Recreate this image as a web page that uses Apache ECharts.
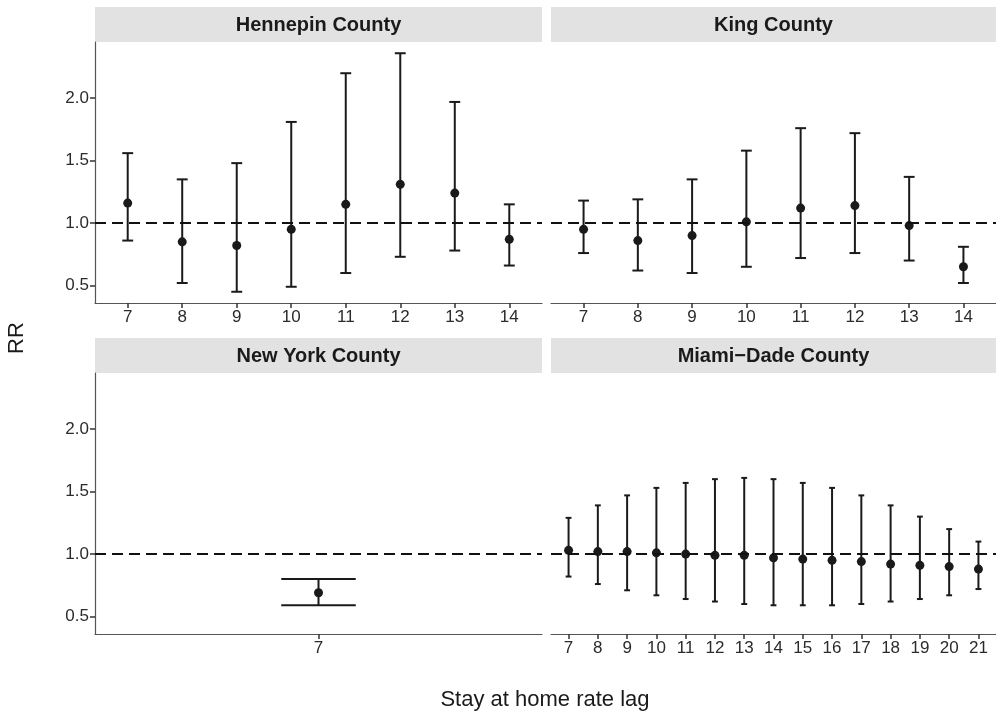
<!DOCTYPE html>
<html>
<head>
<meta charset="utf-8">
<script src="https://cdn.jsdelivr.net/npm/echarts@6/dist/echarts.min.js"></script>
<style>
  html, body { margin: 0; padding: 0; background: #fff; }
  #chart { width: 996px; height: 714px; }
</style>
</head>
<body>
<div id="chart"></div>
<script>
// values: relative risk with 95% CI by lag
var hennepinLag = [7, 8, 9, 10, 11, 12, 13, 14];
var hennepinRR = [1.16, 0.85, 0.82, 0.95, 1.15, 1.31, 1.24, 0.87];
var hennepinLower = [0.86, 0.52, 0.45, 0.49, 0.60, 0.73, 0.78, 0.66];
var hennepinUpper = [1.56, 1.35, 1.48, 1.81, 2.20, 2.36, 1.97, 1.15];

var kingLag = [7, 8, 9, 10, 11, 12, 13, 14];
var kingRR = [0.95, 0.86, 0.90, 1.01, 1.12, 1.14, 0.98, 0.65];
var kingLower = [0.76, 0.62, 0.60, 0.65, 0.72, 0.76, 0.70, 0.52];
var kingUpper = [1.18, 1.19, 1.35, 1.58, 1.76, 1.72, 1.37, 0.81];

var newYorkLag = [7];
var newYorkRR = [0.69];
var newYorkLower = [0.59];
var newYorkUpper = [0.80];

var miamiLag = [7, 8, 9, 10, 11, 12, 13, 14, 15, 16, 17, 18, 19, 20, 21];
var miamiRR = [1.03, 1.02, 1.02, 1.01, 1.00, 0.99, 0.99, 0.97, 0.96, 0.95, 0.94, 0.92, 0.91, 0.90, 0.88];
var miamiLower = [0.82, 0.76, 0.71, 0.67, 0.64, 0.62, 0.60, 0.59, 0.59, 0.59, 0.60, 0.62, 0.64, 0.67, 0.72];
var miamiUpper = [1.29, 1.39, 1.47, 1.53, 1.57, 1.60, 1.61, 1.60, 1.57, 1.53, 1.47, 1.39, 1.30, 1.20, 1.10];

var countyNames = ['Hennepin County', 'King County', 'New York County', 'Miami\u2212Dade County'];
var yTicks = [0.5, 1.0, 1.5, 2.0];
var refLine = 1;

var panels = [
    {name: countyNames[0], lag: hennepinLag, rr: hennepinRR, lo: hennepinLower, hi: hennepinUpper},
    {name: countyNames[1], lag: kingLag, rr: kingRR, lo: kingLower, hi: kingUpper},
    {name: countyNames[2], lag: newYorkLag, rr: newYorkRR, lo: newYorkLower, hi: newYorkUpper},
    {name: countyNames[3], lag: miamiLag, rr: miamiRR, lo: miamiLower, hi: miamiUpper}
];

var font = 'Liberation Sans, Arial, Helvetica, sans-serif';
var ink = '#1a1a1a';
var axisGrey = '#555';

var myChart = echarts.init(document.getElementById('chart'));

var boxes = [
    {left: 95, top: 42, width: 447, height: 261},
    {left: 551, top: 42, width: 445, height: 261},
    {left: 95, top: 373, width: 447, height: 261},
    {left: 551, top: 373, width: 445, height: 261}
];

function renderErrorBar(params, api) {
    var x = api.value(0);
    var lo = api.value(1);
    var hi = api.value(2);
    var pLo = api.coord([x, lo]);
    var pHi = api.coord([x, hi]);
    var xl = api.coord([x - 0.1, hi])[0];
    var xr = api.coord([x + 0.1, hi])[0];
    var style = {stroke: ink, lineWidth: 2};
    return {
        type: 'group',
        children: [
            {type: 'line', shape: {x1: pLo[0], y1: pLo[1], x2: pHi[0], y2: pHi[1]}, style: style},
            {type: 'line', shape: {x1: xl, y1: pHi[1], x2: xr, y2: pHi[1]}, style: style},
            {type: 'line', shape: {x1: xl, y1: pLo[1], x2: xr, y2: pLo[1]}, style: style}
        ]
    };
}

var grid = [], xAxis = [], yAxis = [], series = [], graphic = [];

panels.forEach(function (p, i) {
    var b = boxes[i];
    grid.push({left: b.left, top: b.top, width: b.width, height: b.height});

    var lagMin = p.lag[0], lagMax = p.lag[p.lag.length - 1];
    xAxis.push({
        type: 'value',
        gridIndex: i,
        min: lagMin - 0.6,
        max: lagMax + 0.6,
        splitLine: {show: false},
        axisLine: {show: true, onZero: false, lineStyle: {color: axisGrey, width: 1.2}},
        axisTick: {show: true, inside: false, length: 5, customValues: p.lag, lineStyle: {color: '#333', width: 1.5}},
        axisLabel: {
            show: true, customValues: p.lag, margin: 6,
            color: '#2b2b2b', fontSize: 17, fontFamily: font
        }
    });

    var left = (i % 2 === 0);
    yAxis.push({
        type: 'value',
        gridIndex: i,
        min: 0.36,
        max: 2.45,
        splitLine: {show: false},
        axisLine: {show: left, lineStyle: {color: axisGrey, width: 1.2}},
        axisTick: {show: left, inside: false, length: 5, customValues: yTicks, lineStyle: {color: '#333', width: 1.5}},
        axisLabel: {
            show: left, customValues: yTicks, margin: 6,
            color: '#2b2b2b', fontSize: 17, fontFamily: font,
            formatter: function (v) { return v.toFixed(1); }
        }
    });

    var barData = p.lag.map(function (l, k) { return [l, p.lo[k], p.hi[k]]; });
    var ptData = p.lag.map(function (l, k) { return [l, p.rr[k]]; });

    series.push({
        type: 'custom',
        xAxisIndex: i,
        yAxisIndex: i,
        renderItem: renderErrorBar,
        encode: {x: 0, y: [1, 2]},
        data: barData,
        silent: true,
        z: 2
    });
    series.push({
        type: 'scatter',
        xAxisIndex: i,
        yAxisIndex: i,
        symbolSize: 9,
        itemStyle: {color: ink, opacity: 1},
        data: ptData,
        silent: true,
        z: 3,
        markLine: {
            silent: true,
            symbol: 'none',
            label: {show: false},
            lineStyle: {color: '#111', type: [11, 6], width: 1.9, opacity: 1},
            data: [{yAxis: refLine}]
        }
    });

    // facet strip
    var stripTop = b.top - 35;
    graphic.push({
        type: 'rect',
        left: b.left,
        top: stripTop,
        shape: {width: b.width, height: 35},
        style: {fill: '#e2e2e2'},
        silent: true
    });
    graphic.push({
        type: 'text',
        x: b.left + b.width / 2,
        y: stripTop + 18,
        style: {
            text: p.name, fill: ink, font: 'bold 20px ' + font,
            align: 'center', verticalAlign: 'middle'
        },
        silent: true
    });
});

graphic.push({
    type: 'text',
    x: 545,
    y: 700,
    style: {text: 'Stay at home rate lag', fill: ink, font: '22px ' + font, align: 'center', verticalAlign: 'middle'}
});
graphic.push({
    type: 'text',
    x: 17,
    y: 338,
    rotation: Math.PI / 2,
    style: {text: 'RR', fill: ink, font: '22px ' + font, align: 'center', verticalAlign: 'middle'}
});

var option = {
    backgroundColor: '#fff',
    animation: false,
    grid: grid,
    xAxis: xAxis,
    yAxis: yAxis,
    series: series,
    graphic: graphic
};

myChart.setOption(option);
</script>
</body>
</html>
